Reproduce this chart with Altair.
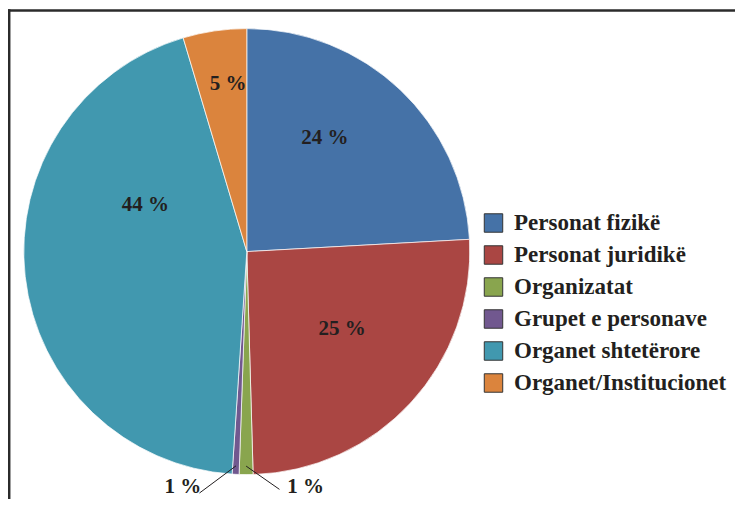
import altair as alt
import pandas as pd

# ---------------- data ----------------
categories = [
    "Personat fizikë",
    "Personat juridikë",
    "Organizatat",
    "Grupet e personave",
    "Organet shtetërore",
    "Organet/Institucionet",
]
values = [24.1, 25.4, 1.0, 0.5, 44.3, 4.6]
labels = ["24 %", "25 %", "1 %", "1 %", "44 %", "5 %"]

# ---------------- style / layout ----------------
colors = ["#4572A7", "#AA4643", "#89A54E", "#71588F", "#4198AF", "#DB843D"]
W, H = 727, 491
CX, CY, R = 238.8, 243.6, 223
FONT = "Liberation Serif"
INK = "#231F20"
# label placement (Excel "best fit"): angular shift from slice middle (deg), distance from centre (px)
label_shift = [-8.9, -3.5, -14.2, 12.3, 31.0, 1.9]
label_dist = [137.7, 123.0, 242.6, 244.0, 111.6, 168.6]
# leader lines for the small slices: end angle shift (deg) and end distance (px); start on slice middle
lead_shift = [None, None, -8.0, 8.2, None, None]
lead_dist = [None, None, 240.0, 246.0, None, None]
LEAD_START = 214.5

df = pd.DataFrame({
    "cat": categories,
    "value": values,
    "label": labels,
    "order": list(range(len(categories))),
    "shift": label_shift,
    "dist": label_dist,
    "lshift": lead_shift,
    "ldist": lead_dist,
})

base = alt.Chart(df)

pie = base.mark_arc(radius=R, stroke="white", strokeWidth=0.7).encode(
    theta=alt.Theta("value:Q", stack=True),
    order=alt.Order("order:Q"),
    color=alt.Color(
        "cat:N",
        scale=alt.Scale(domain=categories, range=colors),
        sort=categories,
        legend=alt.Legend(
            title=None,
            orient="none",
            legendX=474,
            legendY=203.5,
            padding=0,
            symbolType="square",
            symbolSize=340,
            symbolStrokeColor="#333333",
            symbolStrokeWidth=1,
            symbolOpacity=1,
            labelFont=FONT,
            labelFontSize=23,
            labelFontWeight="bold",
            labelColor=INK,
            labelOffset=9,
            labelLimit=400,
            rowPadding=8,
        ),
    ),
    x=alt.value(CX),
    y=alt.value(CY),
)

angles = base.transform_window(
    cum="sum(value)", sort=[alt.SortField("order")], frame=[None, 0]
).transform_joinaggregate(total="sum(value)").transform_calculate(
    mid="(datum.cum - datum.value/2) / datum.total * 2 * PI"
)

text = angles.transform_calculate(
    a="datum.mid + datum.shift * PI / 180",
    lx=f"{CX} + datum.dist * sin(datum.a)",
    ly=f"{CY} - datum.dist * cos(datum.a)",
).mark_text(font=FONT, fontSize=21, fontWeight="bold", color=INK).encode(
    x=alt.X("lx:Q", scale=None),
    y=alt.Y("ly:Q", scale=None),
    text="label:N",
)

leaders = angles.transform_filter("isValid(datum.ldist)").transform_calculate(
    e="datum.mid + datum.lshift * PI / 180",
    x1=f"{CX} + {LEAD_START} * sin(datum.mid)",
    y1=f"{CY} - {LEAD_START} * cos(datum.mid)",
    x2=f"{CX} + datum.ldist * sin(datum.e)",
    y2=f"{CY} - datum.ldist * cos(datum.e)",
).mark_rule(color=INK, strokeWidth=1).encode(
    x=alt.X("x1:Q", scale=None),
    y=alt.Y("y1:Q", scale=None),
    x2="x2:Q",
    y2="y2:Q",
)

frame_df = pd.DataFrame({"k": [0]})
frame_top = alt.Chart(frame_df).mark_rule(color="#2b2b2b", strokeWidth=2.5).encode(
    x=alt.value(0), x2=alt.value(W), y=alt.value(2.5)
)
frame_left = alt.Chart(frame_df).mark_rule(color="#2b2b2b", strokeWidth=2.5).encode(
    x=alt.value(1.2), y=alt.value(1.3), y2=alt.value(H)
)

chart = alt.layer(pie, text, leaders, frame_top, frame_left).properties(
    width=W,
    height=H,
    padding=0,
    autosize=alt.AutoSizeParams(type="none"),
    background="white",
).configure_view(stroke=None)

chart.save("out.html", embed_options={"renderer": "svg", "actions": False})
